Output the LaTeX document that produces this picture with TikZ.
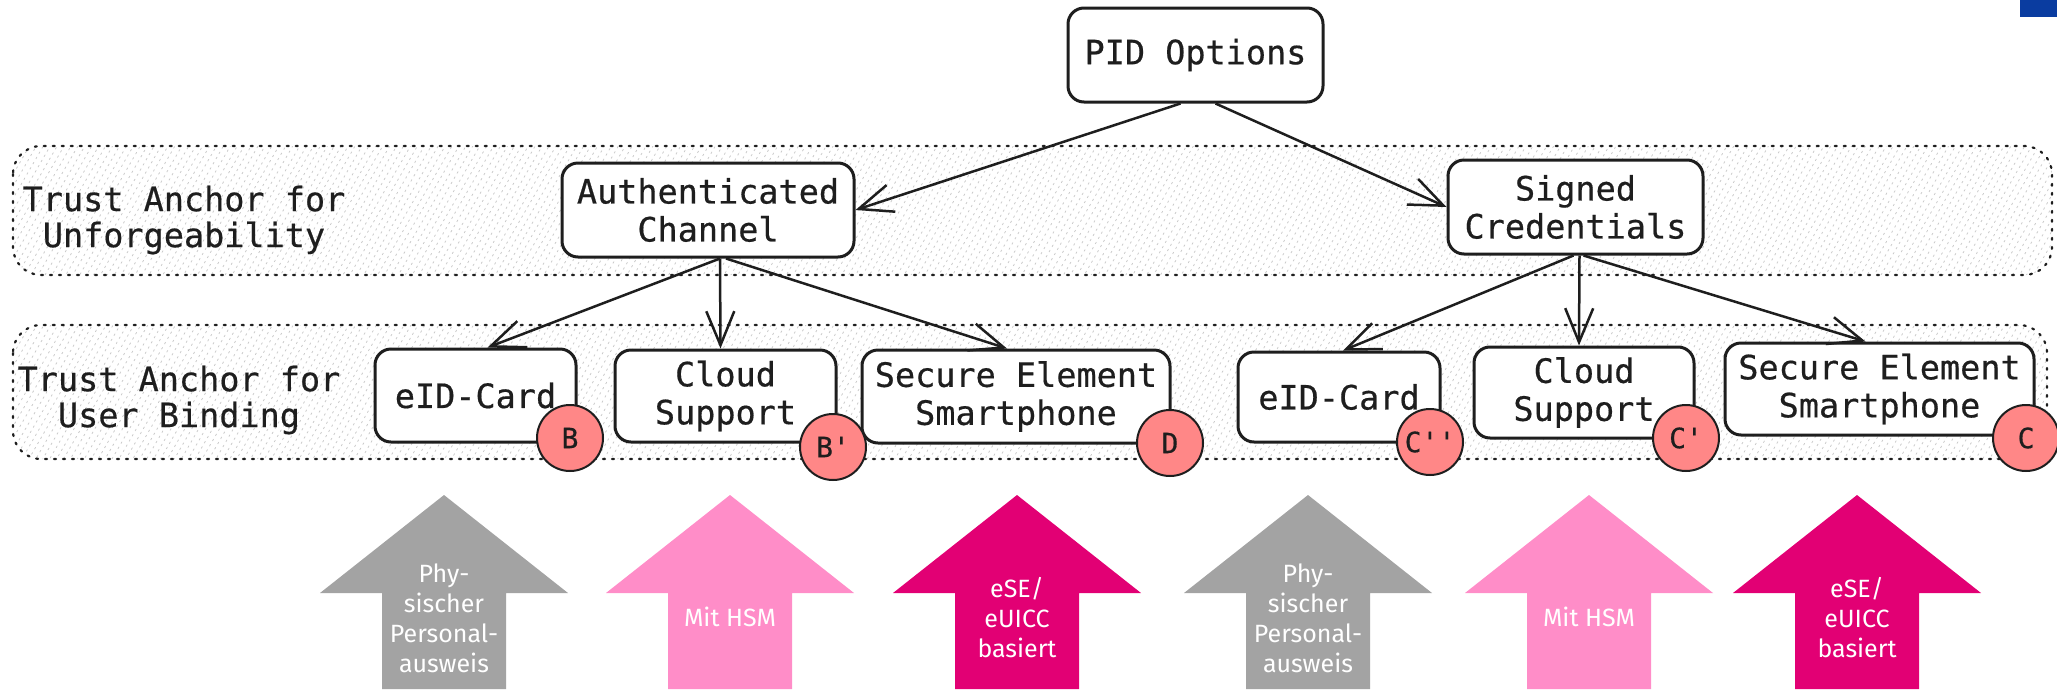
\documentclass[tikz,border=0pt]{standalone}
\usepackage{fontspec}
\usetikzlibrary{arrows.meta,patterns.meta}
\newfontfamily\diagmono{DejaVu Sans Mono}[FakeBold=0.5]
\newfontfamily\arrsans{Fira Sans}
\definecolor{ink}{HTML}{1E1E1E}
\definecolor{greyA}{HTML}{A3A3A3}
\definecolor{pinkA}{HTML}{FF8DC8}
\definecolor{magA}{HTML}{E20074}
\definecolor{salmon}{HTML}{FF8787}
\definecolor{blueA}{HTML}{0A3CA0}
\definecolor{hatch}{HTML}{CBCBCB}
\newcommand\sq{\char"0027\relax}
\begin{document}
\begin{tikzpicture}[x=1pt,y=-1pt,
  band/.style={draw=ink, line width=2.2pt, dash pattern=on 2pt off 7pt, line cap=round,
    rounded corners=28pt, pattern={Lines[angle=60,distance=6pt,line width=0.8pt]}, pattern color=hatch},
  box/.style={draw=ink, line width=3pt, fill=white, rounded corners=16pt, align=center,
    inner sep=0pt, font=\diagmono\fontsize{33.5}{38}\selectfont, text=ink},
  badge/.style={circle, draw=ink, line width=2pt, fill=salmon, minimum size=66pt, inner sep=0pt,
    font=\diagmono\fontsize{28}{28}\selectfont, text=ink},
  conn/.style={draw=ink, line width=2.5pt, -{Straight Barb[length=34pt,width=28pt]}},
  lbl/.style={align=center, inner sep=0pt, font=\diagmono\fontsize{33.5}{36}\selectfont, text=ink},
  atext/.style={align=center, inner sep=0pt, text=white, font=\arrsans\fontsize{25}{30}\selectfont},
  bigup/.pic={\path[pic actions] (0,0) -- (124,98) -- (62,98) -- (62,194) -- (-62,194) -- (-62,98) -- (-124,98) -- cycle;}
]
\useasboundingbox (0,0) rectangle (2057,689);
\fill[blueA] (2020,0) rectangle (2057,17);

% bands
\path[band] (13,146) rectangle (2052,275);
\path[band] (13,325) rectangle (2047,459);
\node[lbl] (lab1) at (184,220) {Trust Anchor for\\Unforgeability};
\node[lbl] (lab2) at (179,400) {Trust Anchor for\\User Binding};

% boxes
\node[box, minimum width=255pt, minimum height=94pt] (pid) at (1195.5,55) {PID Options};
\node[box, minimum width=292pt, minimum height=94pt] (auth) at (708,210) {Authenticated\\Channel};
\node[box, minimum width=255pt, minimum height=94pt] (signed) at (1575.5,207) {Signed\\Credentials};
\node[box, minimum width=201pt, minimum height=93pt] (eidb) at (475.5,395.5) {eID-Card};
\node[box, minimum width=221pt, minimum height=92pt] (cloudb) at (725.5,396) {Cloud\\Support};
\node[box, minimum width=308pt, minimum height=93pt] (seb) at (1016,396.5) {Secure Element\\Smartphone};
\node[box, minimum width=202pt, minimum height=90pt] (eidc) at (1339,397) {eID-Card};
\node[box, minimum width=220pt, minimum height=91pt] (cloudc) at (1584,392.5) {Cloud\\Support};
\node[box, minimum width=309pt, minimum height=92pt] (sec) at (1879.5,389) {Secure Element\\Smartphone};

% connectors
\draw[conn] ([xshift=-15pt]pid.south) -- (auth.east);
\draw[conn] ([xshift=20pt]pid.south) -- (signed.west);
\draw[conn] ([xshift=12pt]auth.south) -- ([xshift=12pt]eidb.north);
\draw[conn] ([xshift=12pt]auth.south) -- ([xshift=-5pt]cloudb.north);
\draw[conn] ([xshift=18pt]auth.south) -- ([xshift=-9pt]seb.north);
\draw[conn] ([xshift=-2pt]signed.south) -- ([xshift=4pt]eidc.north);
\draw[conn] ([xshift=4pt]signed.south) -- ([xshift=-5pt]cloudc.north);
\draw[conn] ([xshift=8pt]signed.south) -- ([xshift=-14pt]sec.north);

% badges
\node[badge] (bB) at (570,438) {B};
\node[badge] (bBp) at (833,447) {B\sq};
\node[badge] (bD) at (1170,443) {D};
\node[badge] (bCpp) at (1430,442) {C\sq\sq};
\node[badge] (bCp) at (1686,438) {C\sq};
\node[badge] (bC) at (2026,438) {C};

% big arrows
\pic[fill=greyA] at (444,495) {bigup};
\pic[fill=pinkA] at (730,495) {bigup};
\pic[fill=magA] at (1017,495) {bigup};
\pic[fill=greyA] at (1308,495) {bigup};
\pic[fill=pinkA] at (1589,495) {bigup};
\pic[fill=magA] at (1857,495) {bigup};
\node[atext] (t1) at (444,618) {Phy-\\sischer\\Personal-\\ausweis};
\node[atext] (t2) at (730,617) {Mit HSM};
\node[atext] (t3) at (1017,618) {eSE/\\eUICC\\basiert};
\node[atext] (t4) at (1308,618) {Phy-\\sischer\\Personal-\\ausweis};
\node[atext] (t5) at (1589,617) {Mit HSM};
\node[atext] (t6) at (1857,618) {eSE/\\eUICC\\basiert};
\end{tikzpicture}
\end{document}
